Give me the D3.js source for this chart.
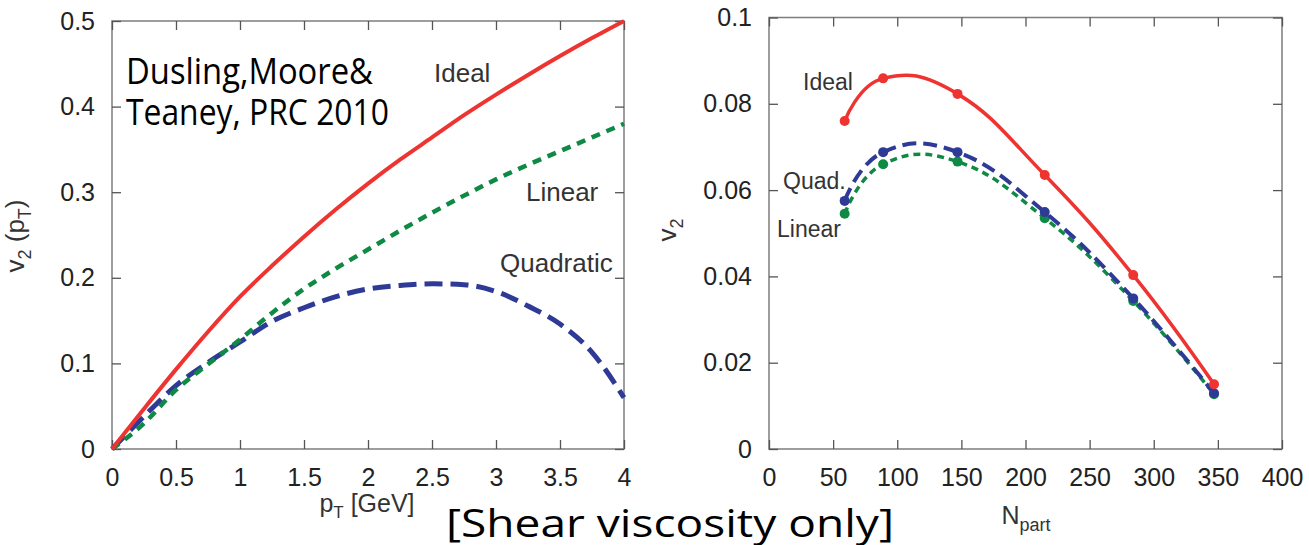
<!DOCTYPE html>
<html>
<head>
<meta charset="utf-8">
<script src="https://cdn.jsdelivr.net/npm/d3@7"></script>
<style>
  body { margin: 0; background: #fff; }
  text { font-family: "Liberation Sans", Arial, sans-serif; }
  text.note { font-family: "Open Sans", "Noto Sans", sans-serif; }
</style>
</head>
<body>
<script>
// v2 vs pT for the three viscous correction forms
var pT = [0, 0.25, 0.5, 0.75, 1, 1.25, 1.5, 1.75, 2, 2.25, 2.5, 2.75, 3, 3.25, 3.5, 3.75, 4];
var v2Ideal = [0, 0.047, 0.093, 0.137, 0.178, 0.214, 0.248, 0.280, 0.310, 0.338, 0.364, 0.390, 0.414, 0.437, 0.459, 0.480, 0.500];
var v2Linear = [0, 0.030, 0.069, 0.099, 0.128, 0.159, 0.187, 0.211, 0.233, 0.255, 0.276, 0.296, 0.315, 0.332, 0.348, 0.364, 0.380];
var v2Quad = [0, 0.038, 0.074, 0.101, 0.125, 0.149, 0.165, 0.178, 0.187, 0.191, 0.193, 0.192, 0.184, 0.167, 0.146, 0.113, 0.060];
var pTTicks = [0, 0.5, 1, 1.5, 2, 2.5, 3, 3.5, 4];
var v2pTTicks = [0, 0.1, 0.2, 0.3, 0.4, 0.5];

// integrated v2 vs centrality
var nPart = [59, 89, 147, 215, 284, 347];
var v2IdealN = [0.0760, 0.0859, 0.0823, 0.0635, 0.0403, 0.0150];
var v2QuadN = [0.0575, 0.0688, 0.0688, 0.0549, 0.0349, 0.0129];
var v2LinearN = [0.0545, 0.0660, 0.0666, 0.0535, 0.0343, 0.0127];
var nPartTicks = [0, 50, 100, 150, 200, 250, 300, 350, 400];
var v2NTicks = [0, 0.02, 0.04, 0.06, 0.08, 0.1];

var red = "#ee3431", green = "#0f8a45", blue = "#2f3a97";

var svg = d3.select("body").append("svg")
  .attr("width", 1309)
  .attr("height", 545);

// frame with inward ticks on all four sides
function drawFrame(x, y, xTicks, yTicks) {
  var xr = x.range(), yr = y.range();
  var g = svg.append("g");

  g.append("rect")
    .attr("x", xr[0]).attr("y", yr[1])
    .attr("width", xr[1] - xr[0]).attr("height", yr[0] - yr[1])
    .attr("fill", "none").attr("stroke", "#7d7d7d").attr("stroke-width", 1.5);

  g.append("g").attr("transform", `translate(0,${yr[0]})`)
    .call(d3.axisBottom(x).tickValues(xTicks).tickSize(-9).tickPadding(19).tickFormat(d => d));
  g.append("g").attr("transform", `translate(${xr[0]},0)`)
    .call(d3.axisLeft(y).tickValues(yTicks).tickSize(-9).tickPadding(17).tickFormat(d => d));
  g.append("g").attr("transform", `translate(0,${yr[1]})`)
    .call(d3.axisTop(x).tickValues(xTicks).tickSize(-9).tickFormat(""));
  g.append("g").attr("transform", `translate(${xr[1]},0)`)
    .call(d3.axisRight(y).tickValues(yTicks).tickSize(-9).tickFormat(""));

  g.selectAll(".domain").remove();
  g.selectAll(".tick line").attr("stroke", "#555").attr("stroke-width", 1.3);
  g.selectAll(".tick text")
    .attr("font-size", 25)
    .attr("fill", "#222");
  return g;
}

// ---- left panel ----
var x1 = d3.scaleLinear().domain([0, 4]).range([112, 624]);
var y1 = d3.scaleLinear().domain([0, 0.5]).range([449, 21]);
drawFrame(x1, y1, pTTicks, v2pTTicks);

var linePt = d3.line()
  .x((d, i) => x1(pT[i]))
  .y(d => y1(d))
  .curve(d3.curveMonotoneX);

svg.append("path").attr("d", linePt(v2Quad))
  .attr("fill", "none").attr("stroke", blue).attr("stroke-width", 5)
  .attr("stroke-dasharray", "18,8");
svg.append("path").attr("d", linePt(v2Linear))
  .attr("fill", "none").attr("stroke", green).attr("stroke-width", 4.5)
  .attr("stroke-dasharray", "9,7");
svg.append("path").attr("d", linePt(v2Ideal))
  .attr("fill", "none").attr("stroke", red).attr("stroke-width", 4);

svg.append("text").attr("x", 434).attr("y", 82).attr("font-size", 26).attr("fill", "#333").text("Ideal");
svg.append("text").attr("x", 526).attr("y", 201).attr("font-size", 26).attr("fill", "#333").text("Linear");
svg.append("text").attr("x", 500).attr("y", 272).attr("font-size", 26).attr("fill", "#333").text("Quadratic");

// axis titles
var yt1 = svg.append("text")
  .attr("transform", "translate(24,236) rotate(-90)")
  .attr("text-anchor", "middle").attr("font-size", 26).attr("fill", "#333");
yt1.append("tspan").text("v");
yt1.append("tspan").attr("dy", 7).attr("font-size", 18).text("2");
yt1.append("tspan").attr("dy", -7).text(" (p");
yt1.append("tspan").attr("dy", 7).attr("font-size", 18).text("T");
yt1.append("tspan").attr("dy", -7).text(")");

var xt1 = svg.append("text")
  .attr("x", 367).attr("y", 512)
  .attr("text-anchor", "middle").attr("font-size", 25).attr("fill", "#333");
xt1.append("tspan").text("p");
xt1.append("tspan").attr("dy", 6).attr("font-size", 17).text("T");
xt1.append("tspan").attr("dy", -6).text(" [GeV]");

// reference note
svg.append("text").attr("class", "note").attr("x", 126).attr("y", 84)
  .attr("font-size", 36)
  .attr("textLength", 247).attr("lengthAdjust", "spacingAndGlyphs")
  .attr("fill", "#000").text("Dusling,Moore&");
svg.append("text").attr("class", "note").attr("x", 126).attr("y", 125)
  .attr("font-size", 36)
  .attr("textLength", 263).attr("lengthAdjust", "spacingAndGlyphs")
  .attr("fill", "#000").text("Teaney, PRC 2010");

// ---- right panel ----
var x2 = d3.scaleLinear().domain([0, 400]).range([769, 1282]);
var y2 = d3.scaleLinear().domain([0, 0.1]).range([449, 17.5]);
drawFrame(x2, y2, nPartTicks, v2NTicks);

var lineN = d3.line()
  .x((d, i) => x2(nPart[i]))
  .y(d => y2(d))
  .curve(d3.curveCardinal.tension(-0.3));

var seriesN = [
  { v: v2LinearN, color: green, width: 3.5, dash: "7,5" },
  { v: v2QuadN, color: blue, width: 4, dash: "14,7" },
  { v: v2IdealN, color: red, width: 3.5, dash: null }
];

seriesN.forEach(function(s) {
  svg.append("path").attr("d", lineN(s.v))
    .attr("fill", "none").attr("stroke", s.color).attr("stroke-width", s.width)
    .attr("stroke-dasharray", s.dash);
  svg.append("g").selectAll("circle").data(s.v).enter()
    .append("circle")
    .attr("cx", (d, i) => x2(nPart[i]))
    .attr("cy", d => y2(d))
    .attr("r", 5)
    .attr("fill", s.color);
});

svg.append("text").attr("x", 803).attr("y", 90).attr("font-size", 23).attr("fill", "#333").text("Ideal");
svg.append("text").attr("x", 783).attr("y", 189).attr("font-size", 23).attr("fill", "#333").text("Quad.");
svg.append("text").attr("x", 777).attr("y", 237).attr("font-size", 23).attr("fill", "#333").text("Linear");

var yt2 = svg.append("text")
  .attr("transform", "translate(676,230) rotate(-90)")
  .attr("text-anchor", "middle").attr("font-size", 26).attr("fill", "#333");
yt2.append("tspan").text("v");
yt2.append("tspan").attr("dy", 7).attr("font-size", 18).text("2");

var xt2 = svg.append("text")
  .attr("x", 1026).attr("y", 524)
  .attr("text-anchor", "middle").attr("font-size", 25).attr("fill", "#333");
xt2.append("tspan").text("N");
xt2.append("tspan").attr("dy", 7).attr("font-size", 18).text("part");

// caption under both panels
svg.append("text").attr("class", "note").attr("x", 446).attr("y", 537)
  .attr("font-size", 38)
  .attr("textLength", 448).attr("lengthAdjust", "spacingAndGlyphs")
  .attr("fill", "#000").text("[Shear viscosity only]");
</script>
</body>
</html>
